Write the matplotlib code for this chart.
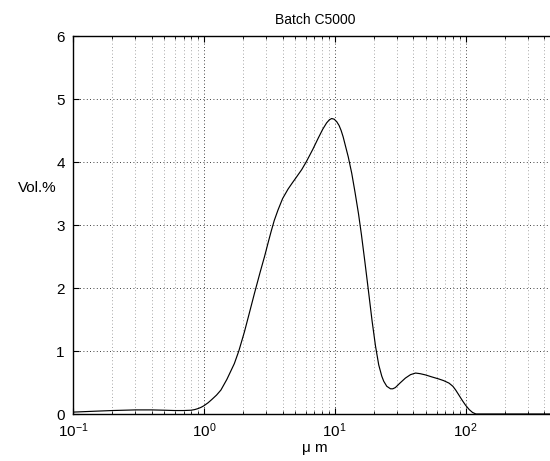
import matplotlib
matplotlib.use("Agg")
import matplotlib.pyplot as plt
from matplotlib.ticker import LogLocator, NullFormatter, MultipleLocator

plt.rcParams['font.family'] = ['Liberation Sans', 'DejaVu Sans']
plt.rcParams['mathtext.fontset'] = 'custom'
plt.rcParams['mathtext.rm'] = 'Liberation Sans'
plt.rcParams['mathtext.it'] = 'Liberation Sans'
plt.rcParams['mathtext.default'] = 'regular'

# Particle size distribution, batch C5000
size_um = [0.1, 0.15, 0.2, 0.3, 0.4, 0.5, 0.6, 0.7, 0.8, 0.85, 0.9, 0.95,
           1.0, 1.08, 1.15, 1.25, 1.35, 1.5, 1.71, 1.85, 2.04, 2.2, 2.44,
           2.7, 2.91, 3.1, 3.27, 3.45, 3.69, 4.0, 4.4, 4.75, 5.1, 5.6, 6.09,
           6.8, 7.49, 8.1, 8.67, 9.1, 9.48, 9.9, 10.36, 10.8, 11.2, 11.6,
           12.0, 12.7, 13.5, 14.3, 15.2, 16.0, 17.0, 18.0, 19.3, 20.5, 21.7,
           22.9, 23.7, 25.0, 26.7, 27.8, 29.1, 31.5, 34.7, 38.0, 41.5, 45.0,
           49.5, 55.0, 62.7, 68.0, 74.8, 80.0, 84.1, 89.0, 94.8, 100.0, 106.7,
           113.0, 120.0, 150.0, 200.0, 300.0, 500.0]
vol_pct = [0.03, 0.045, 0.055, 0.065, 0.065, 0.06, 0.055, 0.055, 0.06, 0.07,
           0.085, 0.105, 0.13, 0.18, 0.23, 0.30, 0.38, 0.55, 0.80, 1.00, 1.30,
           1.56, 1.92, 2.26, 2.50, 2.72, 2.90, 3.07, 3.24, 3.42, 3.57, 3.67,
           3.76, 3.88, 4.01, 4.20, 4.38, 4.52, 4.62, 4.67, 4.69, 4.68, 4.64,
           4.58, 4.50, 4.40, 4.28, 4.08, 3.82, 3.52, 3.18, 2.85, 2.42, 2.00,
           1.48, 1.08, 0.78, 0.60, 0.52, 0.44, 0.40, 0.40, 0.42, 0.49, 0.57,
           0.625, 0.65, 0.64, 0.62, 0.59, 0.555, 0.53, 0.49, 0.44, 0.38, 0.30,
           0.21, 0.14, 0.07, 0.025, 0.0, 0.0, 0.0, 0.0, 0.0]

fig = plt.figure(figsize=(5.5, 4.61), dpi=100)
ax = fig.add_axes([73 / 550, 47 / 461, 484 / 550, 378 / 461])

ax.plot(size_um, vol_pct, color='black', linewidth=0.85)

ax.set_xscale('log')
ax.set_xlim(0.1, 500)
ax.set_ylim(0, 6)
ax.yaxis.set_major_locator(MultipleLocator(1))
ax.xaxis.set_major_locator(LogLocator(base=10))
ax.xaxis.set_minor_locator(LogLocator(base=10, subs=range(2, 10)))
ax.xaxis.set_minor_formatter(NullFormatter())

ax.grid(True, which='major', axis='both', linestyle=(0, (1, 3)),
        color='black', linewidth=0.6)
ax.grid(True, which='minor', axis='x', linestyle=(0, (1, 3)),
        color='#888888', linewidth=0.6)
ax.set_axisbelow(True)

ax.tick_params(which='both', direction='in', top=True, right=True,
               labelsize=11, colors='black')
ax.tick_params(which='major', length=4, width=0.8)
ax.tick_params(which='minor', length=2.5, width=0.6)
ax.tick_params(axis='x', which='major', pad=5)
ax.tick_params(axis='y', which='major', pad=6)
for sp in ax.spines.values():
    sp.set_linewidth(1.0)

ax.set_title('Batch C5000', fontsize=10, pad=9)
ax.set_xlabel('μ m', fontsize=11, labelpad=1)
ax.set_ylabel('Vol.%', fontsize=11, rotation=0, ha='right', va='center')
ax.yaxis.set_label_coords(-0.033, 0.598)

fig.savefig('out.png', dpi=100)
